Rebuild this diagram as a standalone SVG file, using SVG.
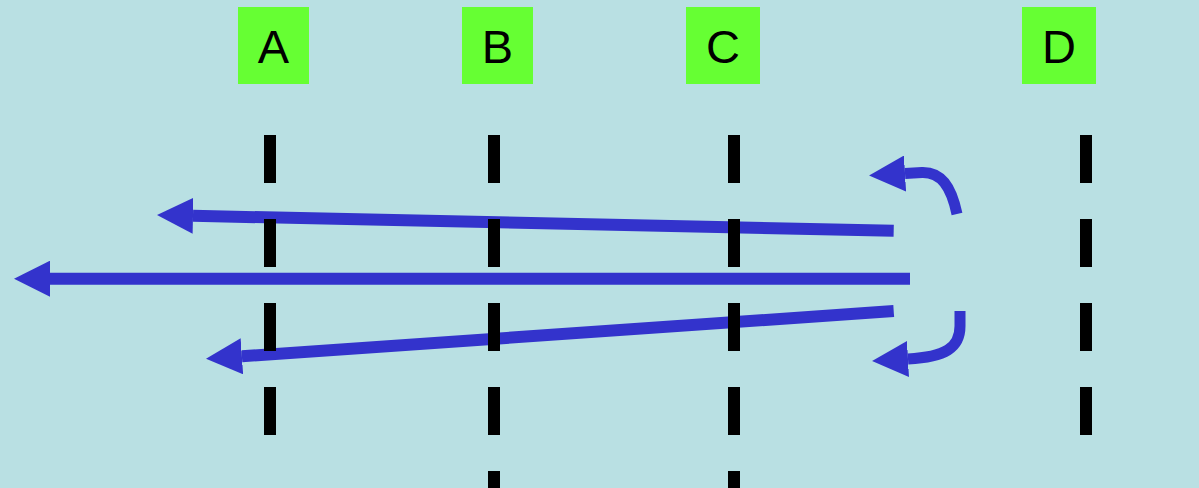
<svg xmlns="http://www.w3.org/2000/svg" width="1199" height="488" viewBox="0 0 1199 488">
<style>
.box{fill:#66ff33}
.lbl{font-family:"Liberation Sans",Arial,sans-serif;font-size:47px;fill:#000;text-anchor:middle}
.life{stroke:#000;stroke-width:12;stroke-dasharray:48 36;fill:none}
.msg{stroke:#3333cc;stroke-width:12;fill:none;marker-end:url(#ah)}
.self{stroke:#3333cc;stroke-width:11;fill:none;marker-end:url(#ah)}
</style>
<defs>
<marker id="ah" markerUnits="userSpaceOnUse" viewBox="0 0 36 36" markerWidth="36" markerHeight="36" refX="0" refY="18" orient="auto">
<path d="M0,0 L36,18 L0,36 Z" fill="#3333cc"/>
</marker>
</defs>
<rect width="1199" height="488" fill="#b9e0e3"/>
<g id="node-A"><rect class="box" x="238" y="7" width="71" height="77"/><text class="lbl" x="273.5" y="63">A</text></g>
<g id="node-B"><rect class="box" x="462" y="7" width="71" height="77"/><text class="lbl" x="497.5" y="63">B</text></g>
<g id="node-C"><rect class="box" x="686" y="7" width="74" height="77"/><text class="lbl" x="723" y="63">C</text></g>
<g id="node-D"><rect class="box" x="1022" y="7" width="74" height="77"/><text class="lbl" x="1059" y="63">D</text></g>
<g id="connectors">
<path class="msg" d="M893.7,230.7 L193,215.8"/>
<path class="msg" d="M910,278.7 L50,278.7"/>
<path class="msg" d="M893.7,311 L241.9,356.3"/>
<path class="self" d="M957,214 C951,186 941,172 922,172.5 L905,173.5"/>
<path class="self" d="M960,311 L960,326 C960,348 945,357 908,359"/>
</g>
<g id="lifelines">
<line class="life" x1="270" y1="135" x2="270" y2="435"/>
<line class="life" x1="494" y1="135" x2="494" y2="488"/>
<line class="life" x1="734" y1="135" x2="734" y2="488"/>
<line class="life" x1="1086" y1="135" x2="1086" y2="435"/>
</g>
</svg>
